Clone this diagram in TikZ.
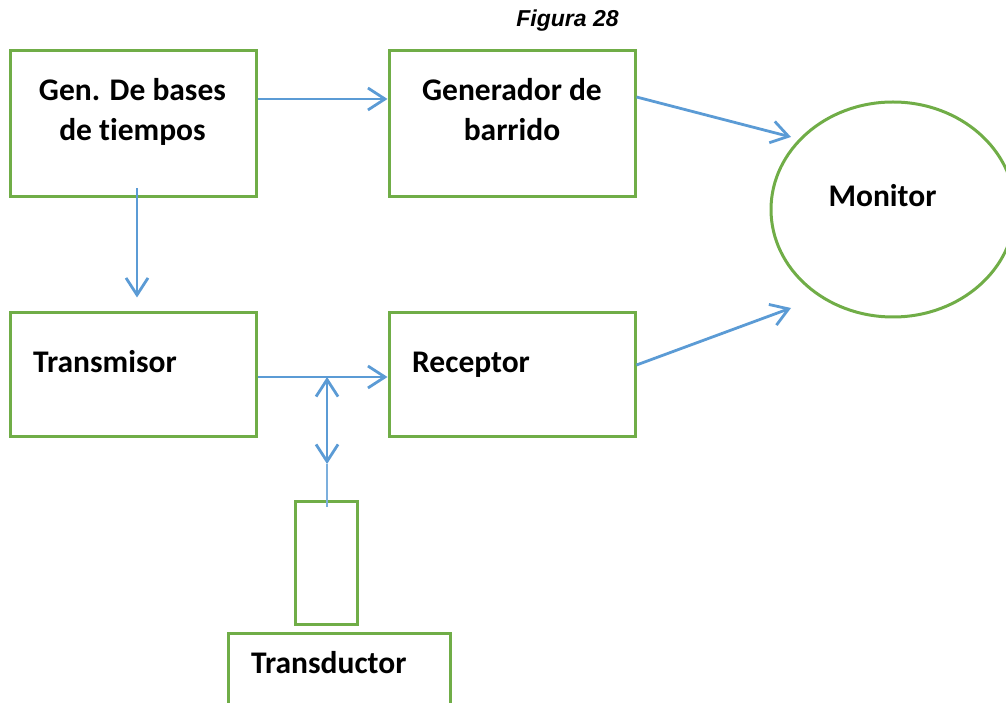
\documentclass[tikz,border=0pt]{standalone}
\usepackage{fontspec}
\setmainfont{Carlito}[Ligatures=NoCommon]
\newfontfamily\arialfont{Liberation Sans}
\usetikzlibrary{arrows.meta,shapes.geometric,positioning}
\definecolor{verde}{HTML}{70AD47}
\definecolor{azul}{HTML}{5B9BD5}

\begin{document}
\begin{tikzpicture}[x=1pt,y=1pt,
                    bloque/.style={draw=verde,line width=3pt,inner sep=0pt,
                                   minimum width=246pt,minimum height=146pt},
                    texto/.style={font=\fontsize{31.5}{40}\selectfont\bfseries,
                                  inner sep=0pt,align=center,anchor=base},
                    punta/.tip={Straight Barb[length=17pt,width=22pt]},
                    flecha/.style={azul,line width=2.8pt,-punta}]
                \useasboundingbox (0,0) rectangle (1006,702);
                \node[font=\arialfont\bfseries\itshape\fontsize{23}{27}\selectfont,
                      inner sep=0pt,anchor=base] (titulo) at (567.5,675) {Figura 28};
                % bloques
                \node[bloque] (genbases) at (133,578) {};
                \node[bloque] (barrido) at (512,578) {};
                \node[bloque,minimum height=124pt] (transmisor) at (133,327) {};
                \node[bloque,minimum height=124pt] (receptor) at (512,327) {};
                \node[draw=verde,line width=3pt,ellipse,inner sep=0pt,
                      minimum width=244pt,minimum height=215pt] (monitor) at (893,492.5) {};
                \node[bloque,minimum width=62pt,minimum height=123pt] (sonda) at (326,139.5) {};
                \node[bloque,minimum width=222pt,minimum height=110pt] (transductor) at (339,14) {};
                % textos
                \node[texto] (genbasestxt) at (132.5,561) {Gen. De bases\\de tiempos};
                \node[texto] (barridotxt) at (512,561) {Generador de\\barrido};
                \node[texto] (monitortxt) at (882.5,495) {Monitor};
                \node[texto,anchor=base west] (transmisortxt) at (33,329) {Transmisor};
                \node[texto,anchor=base west] (receptortxt) at (412,329) {Receptor};
                \node[texto,anchor=base west] (transductortxt) at (251,29) {Transductor};
                % conexiones
                \draw[flecha] ([yshift=25pt]genbases.east) -- ([yshift=25pt]barrido.west);
                \draw[flecha] ([xshift=4pt,yshift=10pt]genbases.south)
                              -- ([xshift=4pt,yshift=14pt]transmisor.north);
                \draw[flecha] ([yshift=27pt]barrido.east)
                              -- ([shift={(-102pt,72.5pt)}]monitor.center);
                \draw[flecha] ([yshift=10pt]receptor.east)
                              -- ([shift={(-102pt,-98.5pt)}]monitor.center);
                \draw[flecha] ([yshift=-2pt]transmisor.east) -- ([yshift=-2pt]receptor.west)
                              coordinate[pos=0.535] (union);
                \draw[flecha,punta-punta] (union) -- ++(0,-87) coordinate (baja);
                \draw[azul!80,line width=1.2pt] (baja) -- ([yshift=-7pt]sonda.north -| baja);
\end{tikzpicture}
\end{document}
